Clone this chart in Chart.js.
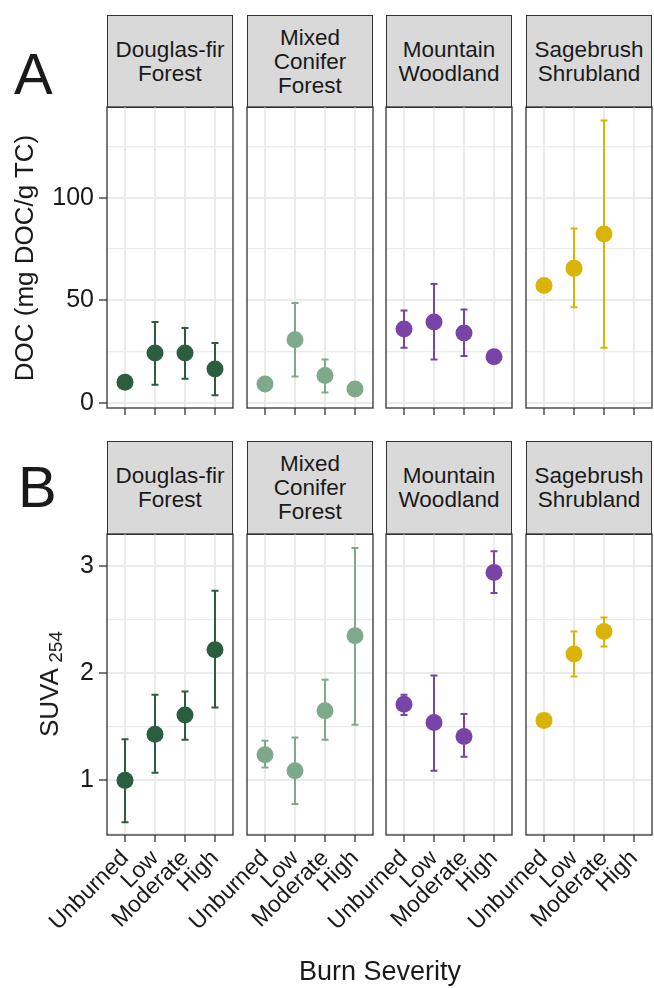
<!DOCTYPE html>
<html>
<head>
<meta charset="utf-8">
<script src="https://cdn.jsdelivr.net/npm/chart.js@4.4.1/dist/chart.umd.min.js"></script>
<style>
  body { margin: 0; background: #fff; width: 654px; height: 988px; position: relative; overflow: hidden;
         font-family: "Liberation Sans", Arial, sans-serif; color: #1a1a1a; }
  .strip { position: absolute; box-sizing: border-box; border: 1.3px solid #333; background: #d9d9d9;
           display: flex; align-items: center; justify-content: center; text-align: center;
           font-size: 22.5px; line-height: 24px; }
  canvas { position: absolute; }
  .lbl { position: absolute; white-space: nowrap; line-height: 1; }
  .rot { transform: translate(-50%, -50%) rotate(-90deg); }
</style>
</head>
<body>
<script>
// categories
const severities = ['Unburned', 'Low', 'Moderate', 'High'];
const ecosystems = [['Douglas-fir', 'Forest'], ['Mixed', 'Conifer', 'Forest'], ['Mountain', 'Woodland'], ['Sagebrush', 'Shrubland']];
const ecoColors = ['#2b5e3f', '#7ea98a', '#7844a7', '#d9b407'];

// panel A: DOC (mg DOC/g TC), one row per ecosystem
const docMean = [
  [10, 24.2, 24.2, 16.4],
  [9.1, 30.7, 13.2, 6.7],
  [35.9, 39.3, 34, 22.4],
  [57.1, 65.5, 82.3, null]
];
const docLow = [
  [null, 8.8, 11.7, 3.6],
  [null, 12.8, 5.0, null],
  [26.8, 21, 22.8, null],
  [null, 46.5, 26.8, null]
];
const docHigh = [
  [null, 39.3, 36.4, 29.1],
  [null, 48.6, 21.1, null],
  [45, 57.9, 45.4, null],
  [null, 84.9, 137.6, null]
];

// panel B: SUVA254
const suvaMean = [
  [1.0, 1.43, 1.61, 2.22],
  [1.24, 1.09, 1.65, 2.35],
  [1.71, 1.54, 1.41, 2.94],
  [1.56, 2.18, 2.39, null]
];
const suvaLow = [
  [0.61, 1.07, 1.38, 1.68],
  [1.12, 0.78, 1.38, 1.52],
  [1.61, 1.09, 1.22, 2.75],
  [null, 1.97, 2.25, null]
];
const suvaHigh = [
  [1.385, 1.80, 1.83, 2.77],
  [1.37, 1.40, 1.94, 3.17],
  [1.80, 1.98, 1.62, 3.14],
  [null, 2.39, 2.52, null]
];

// axis ticks
const docTicks = [0, 25, 50, 75, 100, 125];
const docTickLabels = [0, 50, 100];
const suvaTicks = [0.5, 1, 1.5, 2, 2.5, 3];
const suvaTickLabels = [1, 2, 3];

const FONT = '"Liberation Sans", Arial, sans-serif';
const colLeft = [107, 247, 386, 526];
const panelW = 126, panelH = 301, axisW = 100, padTop = 10, padRight = 12;

// error bars drawn under the points
const errorBars = {
  id: 'errorBars',
  beforeDatasetsDraw(chart) {
    const ds = chart.data.datasets[0];
    const xs = chart.scales.x, ys = chart.scales.y, ctx = chart.ctx;
    ctx.save();
    ctx.strokeStyle = ds.borderColor;
    ctx.lineWidth = 2;
    ds.errLo.forEach((lo, i) => {
      const hi = ds.errHi[i];
      if (lo == null || hi == null) return;
      const x = xs.getPixelForValue(i + 1);
      const y1 = ys.getPixelForValue(lo), y2 = ys.getPixelForValue(hi);
      ctx.beginPath();
      ctx.moveTo(x, y1); ctx.lineTo(x, y2);
      ctx.moveTo(x - 3.5, y1); ctx.lineTo(x + 3.5, y1);
      ctx.moveTo(x - 3.5, y2); ctx.lineTo(x + 3.5, y2);
      ctx.stroke();
    });
    ctx.restore();
  }
};

// dark frame around each panel
const panelBorder = {
  id: 'panelBorder',
  afterDraw(chart) {
    const a = chart.chartArea, ctx = chart.ctx;
    ctx.save();
    ctx.strokeStyle = '#333';
    ctx.lineWidth = 1.3;
    ctx.strokeRect(a.left, a.top, a.right - a.left, a.bottom - a.top);
    ctx.restore();
  }
};

function addDiv(cls, html, style) {
  const d = document.createElement('div');
  d.className = cls;
  d.innerHTML = html;
  Object.assign(d.style, style);
  document.body.appendChild(d);
  return d;
}

function makePanel(col, plotTop, mean, lo, hi, yMin, yMax, yTicks, yLabels, showX) {
  const xH = showX ? 115 : 12;
  const canvas = document.createElement('canvas');
  canvas.width = axisW + panelW + padRight;
  canvas.height = padTop + panelH + xH;
  canvas.style.left = (colLeft[col] - axisW) + 'px';
  canvas.style.top = (plotTop - padTop) + 'px';
  document.body.appendChild(canvas);

  const isMajor = v => yLabels.includes(v);

  new Chart(canvas, {
    type: 'scatter',
    data: {
      datasets: [{
        data: mean.map((v, i) => v == null ? null : { x: i + 1, y: v }).filter(Boolean),
        errLo: lo,
        errHi: hi,
        backgroundColor: ecoColors[col],
        borderColor: ecoColors[col],
        borderWidth: 0,
        pointRadius: 8.5,
        pointHoverRadius: 8.5
      }]
    },
    options: {
      responsive: false,
      animation: false,
      devicePixelRatio: 1,
      events: [],
      layout: { padding: { top: padTop, right: padRight, left: 0, bottom: 0 } },
      plugins: { legend: { display: false }, tooltip: { enabled: false } },
      scales: {
        x: {
          type: 'linear',
          min: 0.4,
          max: 4.6,
          afterBuildTicks: s => { s.ticks = severities.map((_, i) => ({ value: i + 1 })); },
          afterFit: s => { s.height = xH; s.paddingLeft = 0; s.paddingRight = 0; },
          border: { display: false },
          grid: { color: '#ebebeb', lineWidth: 2, tickLength: 7, tickColor: '#333', tickWidth: 1.3 },
          ticks: {
            display: showX,
            autoSkip: false,
            minRotation: 45,
            maxRotation: 45,
            padding: 3,
            color: '#1a1a1a',
            font: { family: FONT, size: 23 },
            callback: v => severities[v - 1]
          }
        },
        y: {
          min: yMin,
          max: yMax,
          afterBuildTicks: s => { s.ticks = yTicks.map(v => ({ value: v })); },
          afterFit: s => { s.width = axisW; s.paddingTop = 0; s.paddingBottom = 0; },
          border: { display: false },
          grid: {
            color: '#ebebeb',
            lineWidth: c => (c.tick && isMajor(c.tick.value)) ? 2 : 1.3,
            drawTicks: col === 0,
            tickLength: 8,
            tickWidth: 1.3,
            tickColor: c => (c.tick && isMajor(c.tick.value)) ? '#333' : 'rgba(0,0,0,0)'
          },
          ticks: {
            display: col === 0,
            autoSkip: false,
            padding: 5,
            color: '#1a1a1a',
            font: { family: FONT, size: 25 },
            callback: v => isMajor(v) ? String(v) : ''
          }
        }
      }
    },
    plugins: [errorBars, panelBorder]
  });
}

function makeRow(stripTop, plotTop, means, lows, highs, yMin, yMax, yTicks, yLabels, showX) {
  ecosystems.forEach((lines, c) => {
    addDiv('strip', lines.join('<br>'), {
      left: colLeft[c] + 'px', top: stripTop + 'px',
      width: panelW + 'px', height: (plotTop - stripTop + 1) + 'px'
    });
    makePanel(c, plotTop, means[c], lows[c], highs[c], yMin, yMax, yTicks, yLabels, showX);
  });
}

makeRow(15, 107, docMean, docLow, docHigh, -2.6, 144.2, docTicks, docTickLabels, false);
makeRow(441, 534, suvaMean, suvaLow, suvaHigh, 0.49, 3.3, suvaTicks, suvaTickLabels, true);

// panel letters and axis titles
addDiv('lbl', 'A', { left: '14px', top: '45px', fontSize: '58px' });
addDiv('lbl', 'B', { left: '18px', top: '458px', fontSize: '58px' });
addDiv('lbl rot', 'DOC (mg DOC/g TC)', { left: '24px', top: '258px', fontSize: '26px' });
addDiv('lbl rot', 'SUVA<span style="font-size:19px;position:relative;top:4px"> 254</span>',
       { left: '49px', top: '684px', fontSize: '26px' });
addDiv('lbl', 'Burn Severity', { left: '380px', top: '958px', fontSize: '27px', transform: 'translateX(-50%)' });
</script>
</body>
</html>
